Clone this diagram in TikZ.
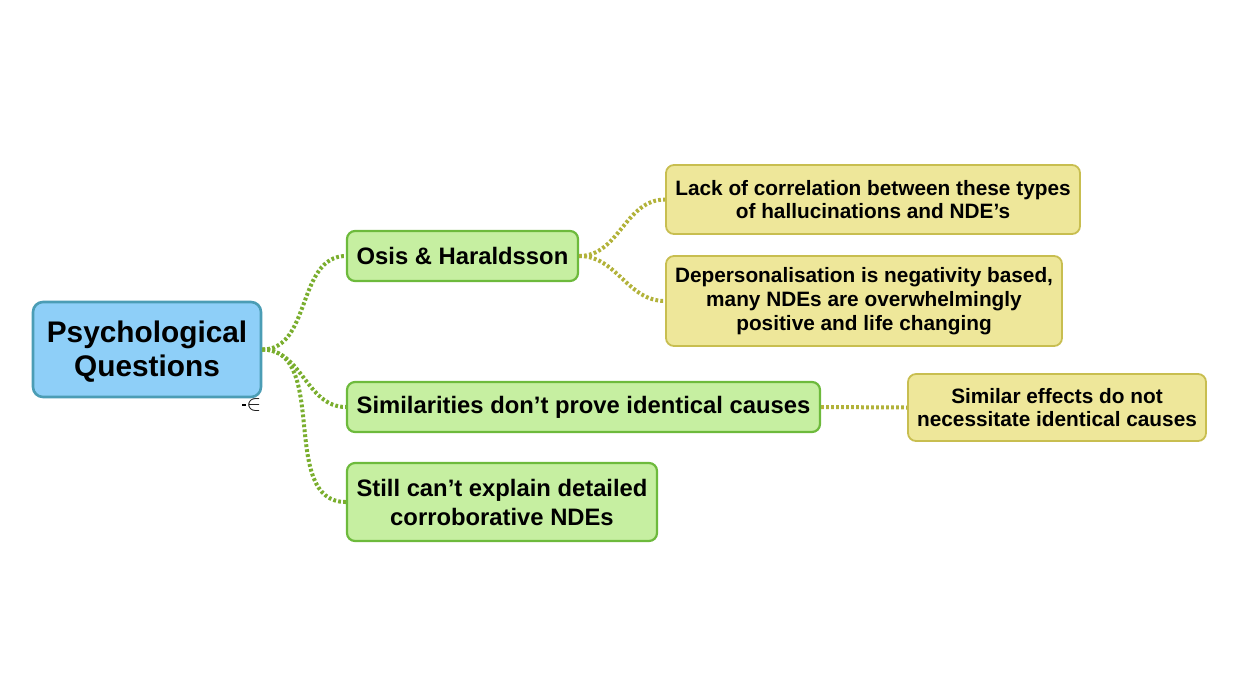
\documentclass[tikz,border=0pt]{standalone}
\usepackage{fontspec}
\setmainfont{Liberation Sans}
\definecolor{rootfill}{HTML}{8ECFF8}
\definecolor{rootline}{HTML}{4B9DB5}
\definecolor{topicfill}{HTML}{C6EFA1}
\definecolor{topicline}{HTML}{6DBA3C}
\definecolor{notefill}{HTML}{EEE79A}
\definecolor{noteline}{HTML}{C8BE50}
\definecolor{greendots}{HTML}{7AAE2E}
\definecolor{olivedots}{HTML}{B2B23A}
\begin{document}
\begin{tikzpicture}[x=0.5pt, y=-0.5pt,
    rootbox/.style={draw=rootline, fill=rootfill, line width=1.3pt,
                    rounded corners=5pt, align=center, inner sep=0pt,
                    font=\fontsize{14.9}{17}\selectfont\bfseries},
    topicbox/.style={draw=topicline, fill=topicfill, line width=1.1pt,
                     rounded corners=4pt, align=center, inner sep=0pt,
                     font=\fontsize{11.9}{14.5}\selectfont\bfseries},
    notebox/.style={draw=noteline, fill=notefill, line width=0.9pt,
                    rounded corners=4pt, align=center, inner sep=0pt,
                    font=\fontsize{10.4}{11.9}\selectfont\bfseries},
    greenlink/.style={draw=greendots, line width=2pt,
                      dash pattern=on 1.4pt off 1.1pt},
    olivelink/.style={draw=olivedots, line width=2pt,
                      dash pattern=on 1.4pt off 1.1pt}]
  \useasboundingbox (0,0) rectangle (1240,698);

  % main topic
  \node[rootbox, minimum width=114pt, minimum height=47.5pt]
    (psych) at (147,349.5) {\rule{0pt}{13pt}Psychological\\Questions};
  \node[font=\fontsize{11}{11}\selectfont, inner sep=0pt] (fold) at (254,405) {$\in$};
  \coordinate (foldtip) at (242,405);
  \draw[line width=0.6pt] (foldtip) -- (fold.west);

  % subtopics
  \node[topicbox, minimum width=115.5pt, minimum height=25pt]
    (osis) at (462.5,256) {Osis \& Haraldsson};
  \node[topicbox, minimum width=236.5pt, minimum height=25pt]
    (simil) at (583.5,407) {Similarities don’t prove identical causes};
  \node[topicbox, minimum width=155pt, minimum height=39pt]
    (still) at (502,502) {Still can’t explain detailed\\corroborative NDEs};

  % notes
  \node[notebox, minimum width=207pt, minimum height=34.5pt]
    (lack) at (873,199.5) {Lack of correlation between these types\\of hallucinations and NDE’s};
  \node[notebox, minimum width=198pt, minimum height=45pt]
    (depers) at (864,301) {Depersonalisation is negativity based,\\many NDEs are overwhelmingly\\positive and life changing};
  \node[notebox, minimum width=149pt, minimum height=33.5pt]
    (effects) at (1057,407.5) {Similar effects do not\\necessitate identical causes};

  % connectors
  \draw[greenlink] (psych.east) to[out=0, in=180] (osis.west);
  \draw[greenlink] (psych.east) to[out=0, in=180] (simil.west);
  \draw[greenlink] (psych.east) to[out=0, in=180] (still.west);
  \draw[olivelink] (osis.east) to[out=0, in=180] (lack.west);
  \draw[olivelink] (osis.east) to[out=0, in=180] (depers.west);
  \draw[olivelink] (simil.east) -- (effects.west);
\end{tikzpicture}
\end{document}
